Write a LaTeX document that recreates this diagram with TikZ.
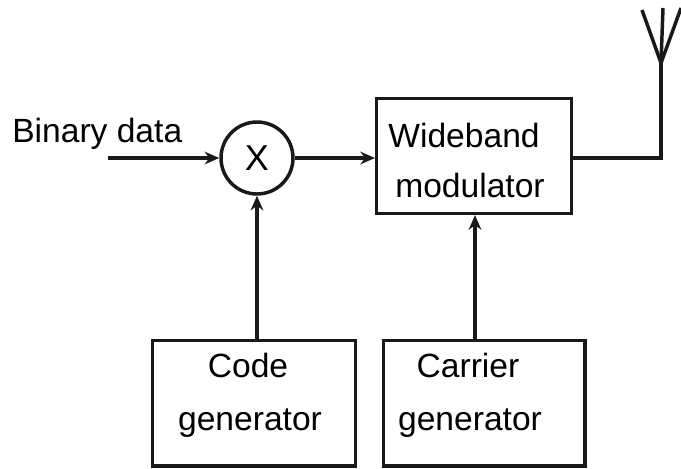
\documentclass[tikz,border=0pt]{standalone}
\usepackage{fontspec}
\setmainfont{Liberation Sans}
\usetikzlibrary{arrows.meta}
\tikzset{
 px/.style={x=0.75pt,y=-0.75pt},
 wire/.style={line width=2.6pt,draw=black!90},
 arr/.style={wire,-{Stealth[length=11pt,width=9.5pt]}},
 box/.style={draw=black!90,line width=2.6pt,fill=white,inner sep=0pt,anchor=north west},
 lab/.style={font=\fontsize{25.2}{30}\selectfont,inner sep=0pt,anchor=base}
}
\begin{document}
\begin{tikzpicture}[px]
\useasboundingbox (0,0) rectangle (681,468);
\node[box,minimum width=146pt,minimum height=86pt] (wm) at (375,97) {};
\node[box,minimum width=152pt,minimum height=94pt] (cg) at (151,339) {};
\node[box,minimum width=151pt,minimum height=94pt] (ca) at (382,339) {};
\node[lab] (t1) at (464,147) {Wideband};
\node[lab] (t2) at (470,197) {modulator};
\node[lab] (t3) at (248,377) {Code};
\node[lab] (t4) at (250,430) {generator};
\node[lab] (t5) at (468,377) {Carrier};
\node[lab] (t6) at (470,430) {generator};
\node[draw=black!90,line width=2.6pt,circle,minimum size=54pt,inner sep=0pt,font=\fontsize{27}{30}\selectfont] (x) at (257,158) {X};
\node[lab,anchor=base west] (bd) at (12,142) {Binary data};
\coordinate (in) at (108,158);
\coordinate (ant) at (661,158);
\coordinate (top) at (661,63);
\coordinate (l) at (642,10);
\coordinate (r) at (681,8);
\coordinate (m) at (663,8);
\coordinate (cat) at (475,339);
\draw[arr] (in) -- (x);
\draw[arr] (x) -- (wm.west |- x);
\draw[arr] (cg.north -| x) -- (x);
\draw[arr] (cat) -- (cat |- wm.south);
\draw[wire] (wm.east |- ant) -- (ant) -- (top);
\draw[wire] (l) -- (top) -- (r);
\draw[wire] (m) -- (top);
\end{tikzpicture}
\end{document}
